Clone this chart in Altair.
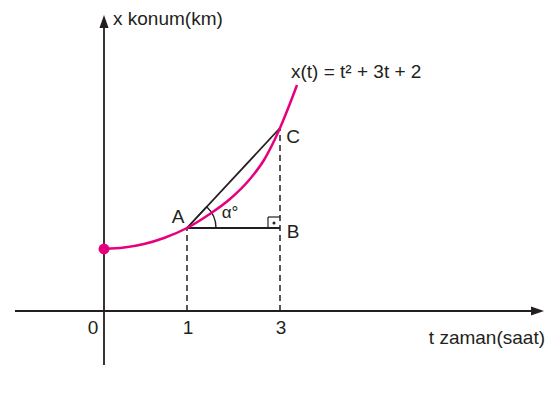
import altair as alt
import pandas as pd

# Diagram coordinates (schematic units, origin at the axes crossing)
curve_u = [0, 20, 40, 60, 83, 105, 126, 146, 160, 171, 176, 185, 193]
curve_v = [62, 63.4, 67, 73, 83, 96.5, 112, 132, 151, 172, 183, 205, 226]

start_point = {"u": 0, "v": 62}
A = {"u": 83, "v": 83}
B = {"u": 176, "v": 83}
C = {"u": 176, "v": 183}

tick_labels = ["0", "1", "3"]
tick_u = [-11, 84, 177]
tick_v = [-17, -17, -17]

point_names = ["A", "B", "C"]
point_label_u = [74, 189, 189]
point_label_v = [94, 79, 174]

MAGENTA = "#E6007E"
INK = "#231F20"
FONT = "Liberation Sans"
FS = 19

xs = alt.Scale(domain=[-96, 441], nice=False, zero=False)
ys = alt.Scale(domain=[-76, 303], nice=False, zero=False)
X = lambda f: alt.X(f, type="quantitative", scale=xs, axis=None)
Y = lambda f: alt.Y(f, type="quantitative", scale=ys, axis=None)

# axes
axes_df = pd.DataFrame([
    {"u": -89, "v": 0, "u2": 436, "v2": 0},
    {"u": 0, "v": -54, "u2": 0, "v2": 291},
])
axes = alt.Chart(axes_df).mark_rule(color=INK, strokeWidth=1.8).encode(
    x=X("u"), y=Y("v"), x2="u2", y2="v2")

arrow_r = alt.Chart(pd.DataFrame([{"u": 440, "v": 0}])).mark_point(
    shape="M0,0L-2,-0.7L-2,0.7Z", filled=True, color=INK, opacity=1, size=169
).encode(x=X("u"), y=Y("v"))
arrow_u = alt.Chart(pd.DataFrame([{"u": 0, "v": 296}])).mark_point(
    shape="M0,0L-0.7,2L0.7,2Z", filled=True, color=INK, opacity=1, size=169
).encode(x=X("u"), y=Y("v"))

# dashed guides
dash_df = pd.DataFrame([
    {"u": A["u"], "v": 0, "u2": A["u"], "v2": A["v"]},
    {"u": C["u"], "v": 0, "u2": C["u"], "v2": C["v"]},
])
dashes = alt.Chart(dash_df).mark_rule(color=INK, strokeWidth=1.5, strokeDash=[6, 4]).encode(
    x=X("u"), y=Y("v"), x2="u2", y2="v2")

# triangle lines
seg_df = pd.DataFrame([
    {"u": A["u"], "v": A["v"], "u2": B["u"], "v2": B["v"]},
    {"u": A["u"], "v": A["v"], "u2": C["u"], "v2": C["v"]},
])
segs = alt.Chart(seg_df).mark_rule(color=INK, strokeWidth=1.8).encode(
    x=X("u"), y=Y("v"), x2="u2", y2="v2")

# right angle marker
sq_df = pd.DataFrame([
    {"u": 164, "v": 83, "u2": 164, "v2": 94},
    {"u": 164, "v": 94, "u2": 176, "v2": 94},
])
square = alt.Chart(sq_df).mark_rule(color=INK, strokeWidth=1.2).encode(
    x=X("u"), y=Y("v"), x2="u2", y2="v2")
sq_dot = alt.Chart(pd.DataFrame([{"u": 170, "v": 88}])).mark_circle(
    color=INK, size=9, opacity=1).encode(x=X("u"), y=Y("v"))

# angle arc
arc = alt.Chart(pd.DataFrame([A])).mark_arc(
    filled=False, stroke=INK, strokeWidth=1.4, radius=29, theta=0.744, theta2=1.5708
).encode(x=X("u"), y=Y("v"))

# curve
curve_df = pd.DataFrame({"u": curve_u, "v": curve_v})
curve = alt.Chart(curve_df).mark_line(color=MAGENTA, strokeWidth=2.5, interpolate="monotone").encode(
    x=X("u"), y=Y("v"), order="u:Q")
dot = alt.Chart(pd.DataFrame([start_point])).mark_circle(color=MAGENTA, size=120, opacity=1).encode(
    x=X("u"), y=Y("v"))

# texts
ticks = alt.Chart(pd.DataFrame({"u": tick_u, "v": tick_v, "t": tick_labels})).mark_text(
    font=FONT, fontSize=FS, color=INK, align="center", baseline="middle").encode(
    x=X("u"), y=Y("v"), text="t:N")
names = alt.Chart(pd.DataFrame({"u": point_label_u, "v": point_label_v, "t": point_names})).mark_text(
    font=FONT, fontSize=FS, color=INK, align="center", baseline="middle").encode(
    x=X("u"), y=Y("v"), text="t:N")

labels_df = pd.DataFrame([
    {"u": 9, "v": 292, "t": "x konum(km)"},
    {"u": 187, "v": 239, "t": "x(t) = t² + 3t + 2"},
])
left_labels = alt.Chart(labels_df).mark_text(
    font=FONT, fontSize=FS, color=INK, align="left", baseline="middle").encode(
    x=X("u"), y=Y("v"), text="t:N")
xlabel = alt.Chart(pd.DataFrame([{"u": 441, "v": -27, "t": "t zaman(saat)"}])).mark_text(
    font=FONT, fontSize=FS, color=INK, align="right", baseline="middle").encode(
    x=X("u"), y=Y("v"), text="t:N")
alpha = alt.Chart(pd.DataFrame([{"u": 126, "v": 98, "t": "α°"}])).mark_text(
    font=FONT, fontSize=17, color=INK, align="center", baseline="middle").encode(
    x=X("u"), y=Y("v"), text="t:N")

chart = alt.layer(
    axes, arrow_r, arrow_u, dashes, segs, square, sq_dot, arc, curve, dot,
    ticks, names, left_labels, xlabel, alpha
).properties(
    width=537, height=379, padding=0, autosize=alt.AutoSizeParams(type="none")
).configure_view(stroke=None)

chart.save("out.html", embed_options={"renderer": "svg", "actions": False})
